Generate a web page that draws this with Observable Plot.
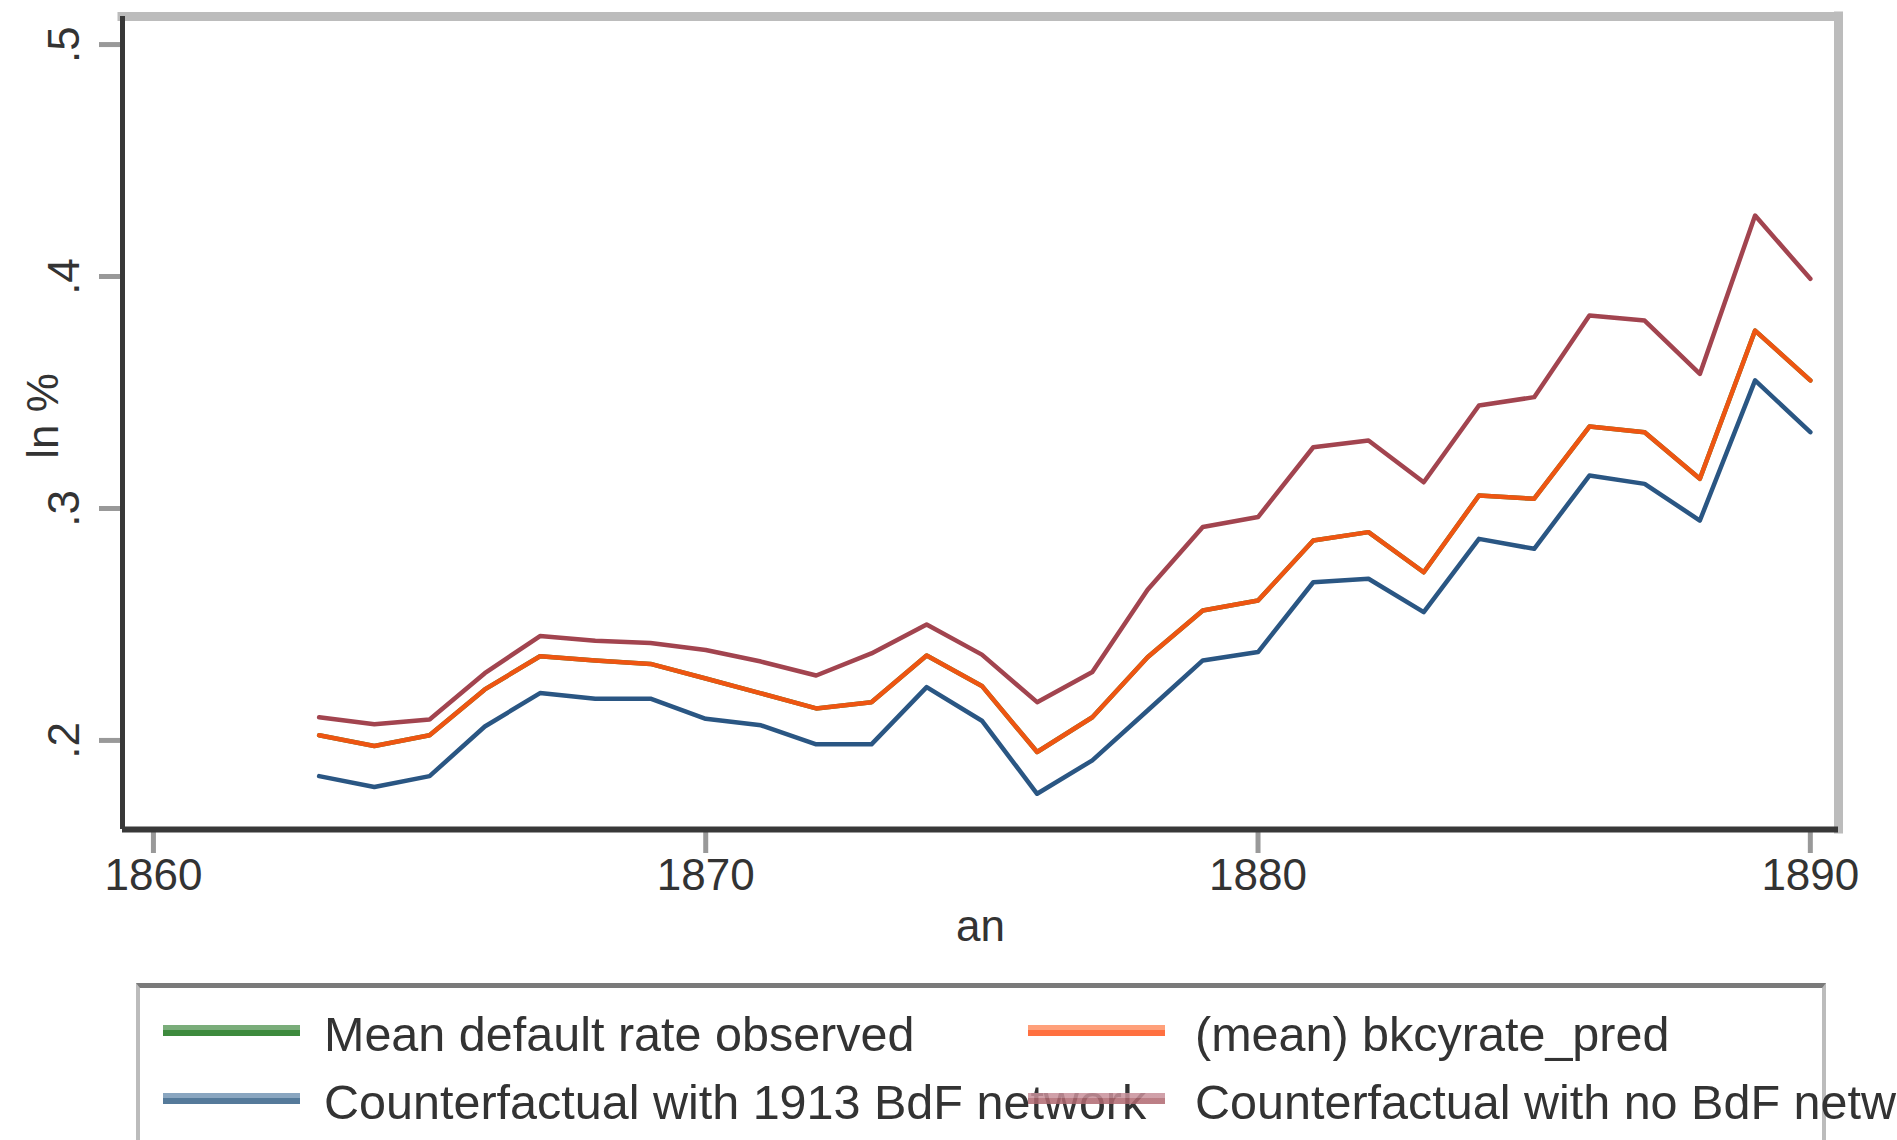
<!DOCTYPE html>
<html>
<head>
<meta charset="utf-8">
<script src="https://cdn.jsdelivr.net/npm/d3@7"></script>
<script src="https://cdn.jsdelivr.net/npm/@observablehq/plot@0.6"></script>
<style>
html, body { margin:0; padding:0; background:#fff; overflow:hidden; width:1897px; height:1140px; }
#chart svg { display:block; }
#legend { position:absolute; left:136px; top:983px; width:1690px; height:220px; box-sizing:border-box;
  border-top:5px solid #7a7a7a; border-left:4px solid #bcbcbc; border-right:4px solid #bcbcbc;
  font-family:"Liberation Sans", Arial, sans-serif; font-size:48.5px; line-height:48px; color:#333; }
.item { position:absolute; white-space:nowrap; }
.sw { position:absolute; width:137px; height:11px; }
</style>
</head>
<body>
<div id="chart"></div>
<div id="legend"></div>
<script>
// ---- data ----
const years = [1863,1864,1865,1866,1867,1868,1869,1870,1871,1872,1873,1874,1875,1876,1877,1878,1879,1880,1881,1882,1883,1884,1885,1886,1887,1888,1889,1890];
const observed  = [0.2022,0.1976,0.2022,0.222,0.2363,0.2345,0.233,0.2267,0.2203,0.2138,0.2165,0.2366,0.2235,0.195,0.210,0.2359,0.256,0.2603,0.2862,0.2898,0.2725,0.3056,0.3042,0.3353,0.3329,0.3128,0.3767,0.3552];
const predicted = [0.2022,0.1976,0.2022,0.222,0.2363,0.2345,0.233,0.2267,0.2203,0.2138,0.2165,0.2366,0.2235,0.195,0.210,0.2359,0.256,0.2603,0.2862,0.2898,0.2725,0.3056,0.3042,0.3353,0.3329,0.3128,0.3767,0.3552];
const cf1913    = [0.1846,0.1799,0.1846,0.206,0.2204,0.218,0.218,0.2093,0.2065,0.1983,0.1983,0.223,0.2085,0.177,0.1914,0.2129,0.2345,0.2381,0.2682,0.2697,0.2553,0.2869,0.2826,0.3142,0.3106,0.2948,0.3552,0.3329];
const cfNone    = [0.210,0.207,0.209,0.229,0.245,0.243,0.242,0.239,0.234,0.228,0.2375,0.250,0.237,0.2165,0.2295,0.265,0.292,0.2963,0.3264,0.3293,0.3113,0.3444,0.348,0.3832,0.381,0.358,0.4263,0.399];

const seriesNames = ["Mean default rate observed", "(mean) bkcyrate_pred", "Counterfactual with 1913 BdF network", "Counterfactual with no BdF network"];
const lineColors = ["#3d8a3d", "#ee5512", "#2a5683", "#a2444f"];
const swatchColors = [["#7aad7a","#3d8a3d"], ["#ffa07a","#ff7040"], ["#8aa6c0","#557a9a"], ["#c8909a","#b06870"]];

const xTicks = [1860, 1870, 1880, 1890];
const xTickLabels = ["1860", "1870", "1880", "1890"];
const yTicks = [0.2, 0.3, 0.4, 0.5];
const yTickLabels = [".2", ".3", ".4", ".5"];
const xDomain = [1859.44, 1890.51];
const yDomain = [0.1616, 0.5121];
const xTitle = "an";
const yTitle = "ln %";

// ---- chart ----
const series = [observed, predicted, cf1913, cfNone];
const toRows = vals => years.map((yr, i) => ({year: yr, value: vals[i]}));

const chart = Plot.plot({
  width: 1897, height: 983,
  marginLeft: 122, marginRight: 59, marginTop: 16, marginBottom: 154,
  style: {fontFamily: "'Liberation Sans', Arial, sans-serif", fontSize: "44px", color: "#333", background: "#fff", overflow: "visible"},
  x: {domain: xDomain},
  y: {domain: yDomain},
  marks: [
    Plot.ruleY([yDomain[1]], {stroke: "#bcbcbc", strokeWidth: 9, strokeLinecap: "square"}),
    Plot.ruleX([xDomain[1]], {stroke: "#bcbcbc", strokeWidth: 9, strokeLinecap: "square"}),
    ...series.map((s, k) => Plot.line(toRows(s), {x: "year", y: "value", stroke: lineColors[k], strokeWidth: 4.5})),
    Plot.axisX({ticks: xTicks, tickSize: 24, tickPadding: 5, stroke: "#999", strokeWidth: 5, fill: "#333", label: null,
      tickFormat: d => xTickLabels[xTicks.indexOf(d)]}),
    Plot.axisY({ticks: yTicks, tickSize: 23, tickPadding: 21, tickRotate: -90, stroke: "#999", strokeWidth: 5, fill: "#333", label: null,
      tickFormat: d => yTickLabels[yTicks.indexOf(d)]}),
    Plot.ruleX([xDomain[0]], {stroke: "#383838", strokeWidth: 5}),
    Plot.ruleY([yDomain[0]], {stroke: "#383838", strokeWidth: 6}),
    Plot.text([yTitle], {frameAnchor: "left", rotate: -90, dx: -65, dy: -7, textAnchor: "middle", lineAnchor: "bottom", fill: "#333"}),
    Plot.text([xTitle], {frameAnchor: "bottom", dy: 111, textAnchor: "middle", lineAnchor: "bottom", fill: "#333"})
  ]
});
document.getElementById("chart").appendChild(chart);

// ---- legend (2 columns, 2 rows) ----
const legend = document.getElementById("legend");
const colLeft = [[23, 184], [888, 1055]];   // [swatch left, text left]
const rowTop = [[37, 22], [105, 90]];       // [swatch top, text top]
const order = [[0,0,0],[1,0,1],[2,1,0],[3,1,1]]; // [series, row, col]
order.forEach(([k, r, c]) => {
  const t = document.createElement("div");
  t.className = "item";
  t.style.left = colLeft[c][1] + "px";
  t.style.top = rowTop[r][1] + "px";
  t.textContent = seriesNames[k];
  legend.appendChild(t);
});
order.forEach(([k, r, c]) => {
  const s = document.createElement("div");
  s.className = "sw";
  s.style.left = colLeft[c][0] + "px";
  s.style.top = rowTop[r][0] + "px";
  s.style.background = `linear-gradient(${swatchColors[k][0]} 45%, ${swatchColors[k][1]} 45%)`;
  if (c === 1 && r === 1) s.style.opacity = "0.85";
  legend.appendChild(s);
});
</script>
</body>
</html>
